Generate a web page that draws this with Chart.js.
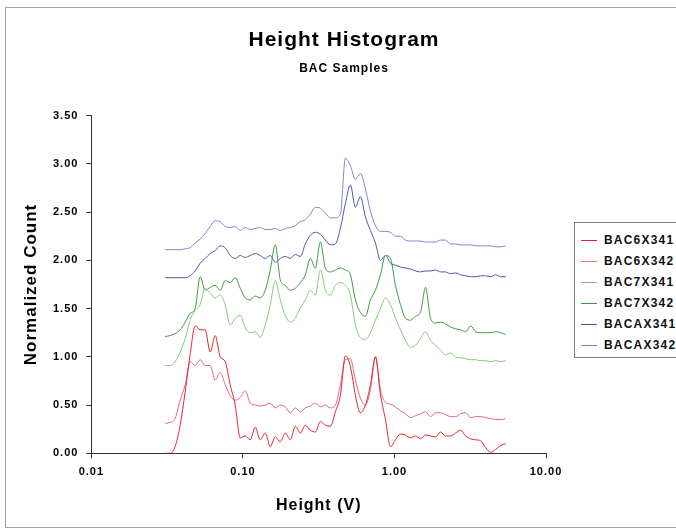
<!DOCTYPE html>
<html>
<head>
<meta charset="utf-8">
<script src="https://cdn.jsdelivr.net/npm/chart.js@4.4.0/dist/chart.umd.min.js"></script>
<style>
html,body{margin:0;padding:0;background:#fff;overflow:hidden;}
#wrap{position:relative;width:676px;height:532px;overflow:hidden;}
#frame{position:absolute;left:5px;top:7px;width:720px;height:519px;border:1px solid #a0a0a0;}
#c{position:absolute;left:0;top:0;}
#legend{position:absolute;left:574px;top:222px;width:130px;height:134px;border:1px solid #808080;background:#fff;
  font-family:"Liberation Sans",Arial,sans-serif;font-weight:bold;font-size:12px;letter-spacing:1.2px;color:#111;}
.item{position:absolute;left:6px;height:14px;line-height:14px;white-space:nowrap;}
.sw{display:inline-block;width:16px;height:0;border-top:1px solid;vertical-align:middle;margin-right:7px;}
</style>
</head>
<body>
<div id="wrap">
  <div id="frame"></div>
  <canvas id="c" width="688" height="532"></canvas>
  <div id="legend"></div>
</div>
<script>
// ---- data ----
const heights = [0.0307,0.0331,0.0357,0.0385,0.0416,0.0448,0.0484,0.0522,0.0563,0.0608,
  0.0656,0.0708,0.0764,0.0824,0.0889,0.0960,0.1036,0.1117,0.1206,0.1301,
  0.1404,0.1515,0.1635,0.1764,0.1904,0.2054,0.2217,0.2392,0.2581,0.2785,
  0.3005,0.3243,0.3499,0.3776,0.4074,0.4396,0.4744,0.5119,0.5524,0.5960,
  0.6431,0.6940,0.7488,0.8080,0.8719,0.9409,1.015,1.096,1.182,1.276,
  1.377,1.485,1.603,1.730,1.866,2.014,2.173,2.345,2.531,2.731,
  2.947,3.180,3.431,3.702,3.995,4.311,4.652,5.019,5.416];

const seriesNames = ['BAC6X341','BAC6X342','BAC7X341','BAC7X342','BACAX341','BACAX342'];

const bac6x341 = [0.00,0.00,0.07,0.29,0.64,1.02,1.32,1.28,1.28,1.05,
  1.22,1.00,0.95,0.71,0.50,0.16,0.18,0.14,0.27,0.14,
  0.21,0.07,0.17,0.12,0.21,0.14,0.28,0.21,0.29,0.24,
  0.22,0.33,0.29,0.28,0.43,0.60,1.01,0.90,0.60,0.42,
  0.50,0.71,1.00,0.61,0.35,0.07,0.14,0.20,0.19,0.16,
  0.18,0.15,0.19,0.18,0.17,0.22,0.18,0.18,0.21,0.24,
  0.18,0.15,0.14,0.13,0.06,0.01,0.04,0.08,0.10];

const bac6x342 = [0.31,0.32,0.36,0.55,0.71,0.95,0.91,0.97,0.91,0.91,
  0.76,0.84,0.71,0.60,0.55,0.58,0.65,0.52,0.50,0.49,
  0.50,0.52,0.47,0.50,0.48,0.42,0.47,0.43,0.47,0.49,
  0.52,0.48,0.50,0.47,0.50,0.71,0.97,0.98,0.76,0.57,
  0.50,0.66,1.00,0.66,0.53,0.51,0.48,0.44,0.41,0.37,
  0.39,0.41,0.43,0.38,0.42,0.42,0.40,0.38,0.38,0.41,
  0.42,0.37,0.38,0.38,0.37,0.36,0.35,0.35,0.36];

const bac7x341 = [0.91,0.91,0.95,1.05,1.19,1.38,1.48,1.54,1.71,1.66,
  1.61,1.64,1.54,1.33,1.40,1.43,1.30,1.25,1.26,1.20,
  1.33,1.54,1.79,1.59,1.43,1.36,1.40,1.51,1.59,1.69,
  1.64,1.90,1.69,1.64,1.74,1.77,1.74,1.64,1.33,1.20,
  1.18,1.25,1.38,1.50,1.61,1.54,1.40,1.28,1.17,1.10,
  1.12,1.19,1.26,1.17,1.12,1.07,1.02,1.04,1.00,0.99,
  0.98,0.97,0.97,0.96,0.96,0.95,0.96,0.95,0.96];

const bac7x342 = [1.21,1.22,1.24,1.28,1.36,1.45,1.50,1.83,1.69,1.72,
  1.74,1.69,1.79,1.77,1.82,1.71,1.61,1.59,1.63,1.61,
  1.69,1.90,2.16,1.80,1.74,1.69,1.71,1.77,1.85,2.02,
  1.92,2.19,1.92,1.88,1.90,1.92,1.90,1.85,1.59,1.46,
  1.42,1.59,1.69,1.85,2.05,2.02,1.74,1.54,1.40,1.38,
  1.42,1.46,1.72,1.40,1.35,1.36,1.34,1.31,1.29,1.28,
  1.26,1.32,1.26,1.25,1.25,1.25,1.26,1.25,1.23];

const bacax341 = [1.82,1.82,1.82,1.82,1.82,1.84,1.89,1.97,2.02,2.07,
  2.10,2.15,2.13,2.05,2.02,2.05,2.03,2.05,2.07,2.05,
  2.02,2.05,1.98,2.02,2.04,2.02,2.06,2.04,2.17,2.26,
  2.29,2.27,2.21,2.16,2.17,2.33,2.59,2.78,2.55,2.66,
  2.45,2.31,2.18,2.00,2.05,1.97,1.95,1.93,1.92,1.91,
  1.89,1.88,1.89,1.89,1.90,1.88,1.88,1.86,1.87,1.85,
  1.84,1.83,1.83,1.84,1.84,1.83,1.85,1.83,1.83];

const bacax342 = [2.11,2.11,2.11,2.11,2.12,2.13,2.18,2.22,2.28,2.35,
  2.41,2.40,2.35,2.34,2.35,2.31,2.34,2.32,2.33,2.34,
  2.32,2.32,2.33,2.31,2.33,2.34,2.36,2.40,2.42,2.48,
  2.55,2.54,2.49,2.44,2.44,2.48,3.06,2.98,2.84,2.90,
  2.74,2.51,2.36,2.30,2.30,2.29,2.25,2.25,2.21,2.20,
  2.20,2.20,2.19,2.19,2.19,2.21,2.21,2.17,2.17,2.16,
  2.16,2.16,2.15,2.15,2.15,2.15,2.14,2.14,2.15];

const xTickValues = [0.01, 0.1, 1, 10];
const xTickLabels = ['0.01', '0.10', '1.00', '10.00'];
const yTickValues = [0, 0.5, 1, 1.5, 2, 2.5, 3, 3.5];
const yTickLabels = ['0.00','0.50','1.00','1.50','2.00','2.50','3.00','3.50'];

// ---- styling ----
const seriesValues = [bac6x341, bac6x342, bac7x341, bac7x342, bacax341, bacax342];
const seriesColors = ['#e2262e', '#e06a80', '#86c878', '#3e9a3e', '#4e56a8', '#7c86d0'];
const F = '"Liberation Sans", Arial, sans-serif';

const datasets = seriesNames.map((name, i) => ({
  label: name,
  data: heights.map((h, j) => ({x: h, y: seriesValues[i][j]})),
  borderColor: seriesColors[i],
  backgroundColor: seriesColors[i],
  borderWidth: 1,
  pointRadius: 0,
  fill: false,
  cubicInterpolationMode: 'monotone'
}));

const spacingPlugin = {
  id: 'spacing',
  beforeDraw(chart) { chart.ctx.letterSpacing = '1px'; }
};

new Chart(document.getElementById('c'), {
  type: 'line',
  data: {datasets},
  plugins: [spacingPlugin],
  options: {
    responsive: false,
    animation: false,
    devicePixelRatio: 1,
    layout: {padding: 0},
    plugins: {
      legend: {display: false},
      tooltip: {enabled: false},
      title: {display: true, text: 'Height Histogram', color: '#000',
        font: {family: F, size: 21, weight: 'bold'}, padding: {top: 28, bottom: 8}},
      subtitle: {display: true, text: 'BAC Samples', color: '#000',
        font: {family: F, size: 12, weight: 'bold'}, padding: {top: 0, bottom: 40}}
    },
    scales: {
      x: {
        type: 'logarithmic', min: 0.01, max: 10,
        afterBuildTicks: s => { s.ticks = xTickValues.map(v => ({value: v, major: true})); },
        afterFit: s => { s.height = 78.7; },
        ticks: {autoSkip: false, maxRotation: 0, padding: 7, color: '#000',
          font: {family: F, size: 11, weight: 'bold'},
          callback: (v, i) => xTickLabels[i]},
        grid: {display: true, drawOnChartArea: false, drawTicks: true, tickLength: 5, color: '#333'},
        border: {display: true, color: '#333', width: 1},
        title: {display: true, text: 'Height (V)', color: '#000',
          font: {family: F, size: 16, weight: 'bold'}, padding: {top: 4, bottom: 17}}
      },
      y: {
        type: 'linear', min: 0, max: 3.5,
        afterBuildTicks: s => { s.ticks = yTickValues.map(v => ({value: v})); },
        afterFit: s => { s.width = 91.4; },
        ticks: {padding: 8, color: '#000', font: {family: F, size: 11, weight: 'bold'},
          callback: (v, i) => yTickLabels[i]},
        grid: {display: true, drawOnChartArea: false, drawTicks: true, tickLength: 5, color: '#333'},
        border: {display: true, color: '#333', width: 1},
        title: {display: true, text: 'Normalized Count', color: '#000',
          font: {family: F, size: 17, weight: 'bold'}, padding: {top: 21, bottom: 0}}
      },
      yRight: {
        type: 'linear', axis: 'y', position: 'right', display: true,
        afterFit: s => { s.width = 142; },
        grid: {display: false}, border: {display: false}, ticks: {display: false}
      }
    }
  }
});

// legend as real text
const lg = document.getElementById('legend');
seriesNames.forEach((name, i) => {
  const d = document.createElement('div');
  d.className = 'item';
  d.style.top = (10 + i * 21) + 'px';
  const sw = document.createElement('span');
  sw.className = 'sw';
  sw.style.borderTopColor = seriesColors[i];
  d.appendChild(sw);
  d.appendChild(document.createTextNode(name));
  lg.appendChild(d);
});
</script>
</body>
</html>
